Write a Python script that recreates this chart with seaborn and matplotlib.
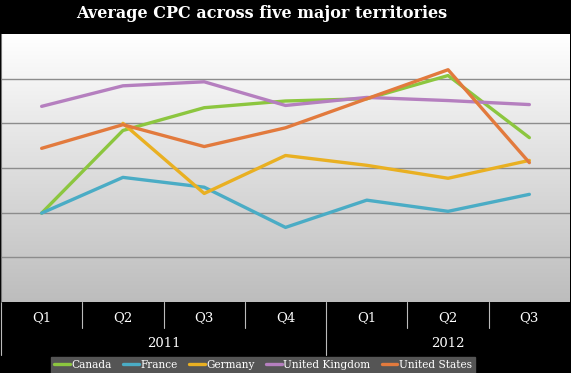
import numpy as np
import pandas as pd
import matplotlib
matplotlib.use("Agg")
import matplotlib.pyplot as plt
import seaborn as sns

quarters = ["Q1", "Q2", "Q3", "Q4", "Q1", "Q2", "Q3"]
years = ["2011", "2012"]
year_spans = [(0, 4), (4, 7)]
countries = ["Canada", "France", "Germany", "United Kingdom", "United States"]
canada = [1.99, 3.84, 4.35, 4.50, 4.55, 5.07, 3.68]
france = [1.99, 2.79, 2.57, 1.67, 2.28, 2.03, 2.41]
germany = [np.nan, 4.00, 2.43, 3.28, 3.06, 2.77, 3.17]
uk = [4.38, 4.84, 4.93, 4.40, 4.58, 4.51, 4.42]
us = [3.44, 3.97, 3.48, 3.90, 4.55, 5.20, 3.12]
colors = ["#8cc63f", "#4aacc5", "#e9b022", "#b57fbf", "#e27a3d"]
title = "Average CPC across five major territories"

series = [canada, france, germany, uk, us]
rows = []
for c, vals in zip(countries, series):
    for i, v in enumerate(vals):
        rows.append({"pos": i, "value": v, "country": c})
df = pd.DataFrame(rows)

sns.set_style("white")
plt.rcParams["font.family"] = ["DejaVu Serif", "DejaVu Sans"]

W, H = 571, 373
fig = plt.figure(figsize=(W / 100, H / 100), dpi=100, facecolor="black")
ax = fig.add_axes([1 / W, (H - 302) / H, 569 / W, (302 - 34) / H])

# gradient background
grad = np.linspace(1, 0, 256).reshape(-1, 1)
cmap = matplotlib.colors.LinearSegmentedColormap.from_list("g", ["#bdbdbd", "#ffffff"])
ax.imshow(grad, extent=[-0.5, 6.5, 0, 6], aspect="auto", cmap=cmap, origin="upper", zorder=0)

sns.lineplot(data=df, x="pos", y="value", hue="country", hue_order=countries,
             palette=colors, linewidth=2.4, ax=ax, legend=True, zorder=3)

ax.set_xlim(-0.5, 6.5)
ax.set_ylim(0, 6)
ax.set_yticks([1, 2, 3, 4, 5])
ax.yaxis.grid(True, color="#8c8c8c", linewidth=1.0, zorder=1)
ax.set_axisbelow(True)
ax.set_xticks([])
ax.tick_params(left=False, labelleft=False)
ax.set_xlabel("")
ax.set_ylabel("")
for s in ["top", "right", "bottom"]:
    ax.spines[s].set_visible(False)
ax.spines["left"].set_color("#777777")

# category axis below
for i, q in enumerate(quarters):
    ax.text(i, -0.36, q, ha="center", va="center", color="white", fontsize=9.5)
for (a, b), y in zip(year_spans, years):
    ax.text((a + b - 1) / 2, -0.92, y, ha="center", va="center", color="white", fontsize=9.5)
for b in range(1, 7):
    ymin = -1.18 if b == 4 else -0.58
    ax.plot([b - 0.5, b - 0.5], [0, ymin], color="#bbbbbb", linewidth=0.8, clip_on=False, zorder=2)
ax.plot([-0.5, -0.5], [0, -1.18], color="#bbbbbb", linewidth=0.8, clip_on=False, zorder=2)

# legend
handles, labels = ax.get_legend_handles_labels()
ax.get_legend().remove()
leg = fig.legend(handles, labels, loc="lower center", bbox_to_anchor=(263 / W, 0.0), ncol=5,
                 frameon=True, facecolor="#555555", edgecolor="#555555", fancybox=False,
                 framealpha=1, fontsize=7.6, labelcolor="white", handlelength=1.5,
                 handletextpad=0.1, columnspacing=1.1, borderpad=0.3, borderaxespad=0)

fig.text(262 / W, 1 - 14 / H, title, ha="center", va="center", color="white",
         fontsize=11.5, fontweight="bold")

fig.savefig("out.png", dpi=100, facecolor="black")
